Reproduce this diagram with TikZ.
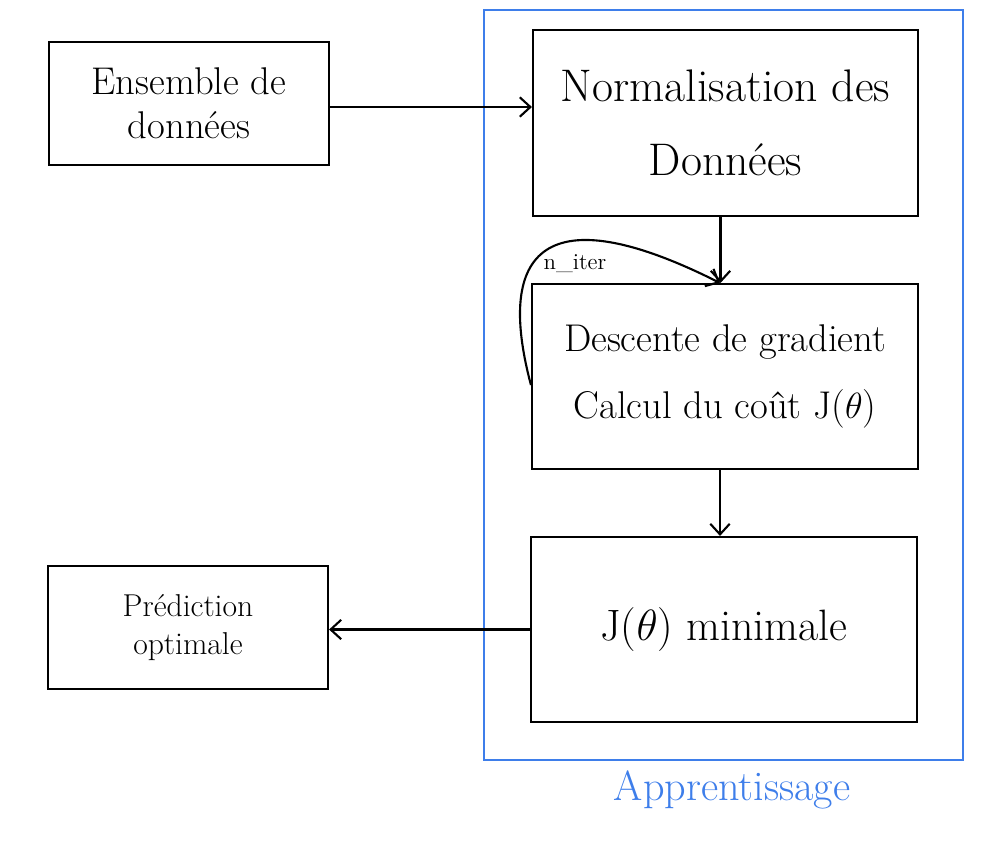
\documentclass[tikz,border=0pt]{standalone}
\usetikzlibrary{arrows.meta,positioning}
\definecolor{appblue}{RGB}{62,126,234}

\begin{document}
\begin{tikzpicture}[line width=1.2pt,
	bloc/.style={draw,rectangle,align=center,minimum width=7.72cm,minimum height=3.7cm},
	petit/.style={draw,rectangle,align=center,minimum width=5.6cm,minimum height=2.46cm},
	fleche/.style={-{Straight Barb[length=6pt,width=11pt]}}]
\useasboundingbox (0,0) rectangle (19.94,-17.28);
% cadre de l'apprentissage
\draw[appblue] (9.68,-0.2) rectangle (19.26,-15.2);
\node[appblue,font=\fontsize{24}{28}\selectfont] (appr) at (14.64,-15.8) {Apprentissage};

\node[petit,font=\fontsize{22}{25}\selectfont] (data) at (3.78,-2.07) {Ensemble de\\données};
\node[bloc,minimum width=7.7cm,minimum height=3.72cm,font=\fontsize{26}{42}\selectfont] (norm) at (14.51,-2.46) {Normalisation des\\Données};
\node[bloc,font=\fontsize{22}{38}\selectfont] (grad) at (14.5,-7.53) {Descente de gradient\\Calcul du coût J($\theta$)};
\node[bloc,font=\fontsize{25}{28}\selectfont] (jmin) at (14.48,-12.59) {J($\theta$) minimale};
\node[petit,font=\fontsize{18}{22}\selectfont] (pred) at (3.76,-12.55) {Prédiction\\optimale};

\draw[fleche] ([yshift=-0.07cm]data.east) -- ([yshift=-0.07cm]data.east -| norm.west);
\draw[fleche] ([xshift=-0.1cm]norm.south) -- ([xshift=-0.1cm]norm.south |- grad.north);
\draw[fleche] ([xshift=-0.1cm]grad.south) -- ([xshift=-0.1cm]grad.south |- jmin.north);
\draw[fleche] (jmin.west) -- (jmin.west -| pred.east);
%boucle sur les iterations
\draw[fleche] ([yshift=-0.17cm]grad.west) .. controls (9.9,-5.0) and (10.9,-3.9) .. ([xshift=-0.1cm]grad.north);
\node[font=\fontsize{13}{15}\selectfont] (iter) at (11.5,-5.28) {n\_iter};
\end{tikzpicture}
\end{document}
